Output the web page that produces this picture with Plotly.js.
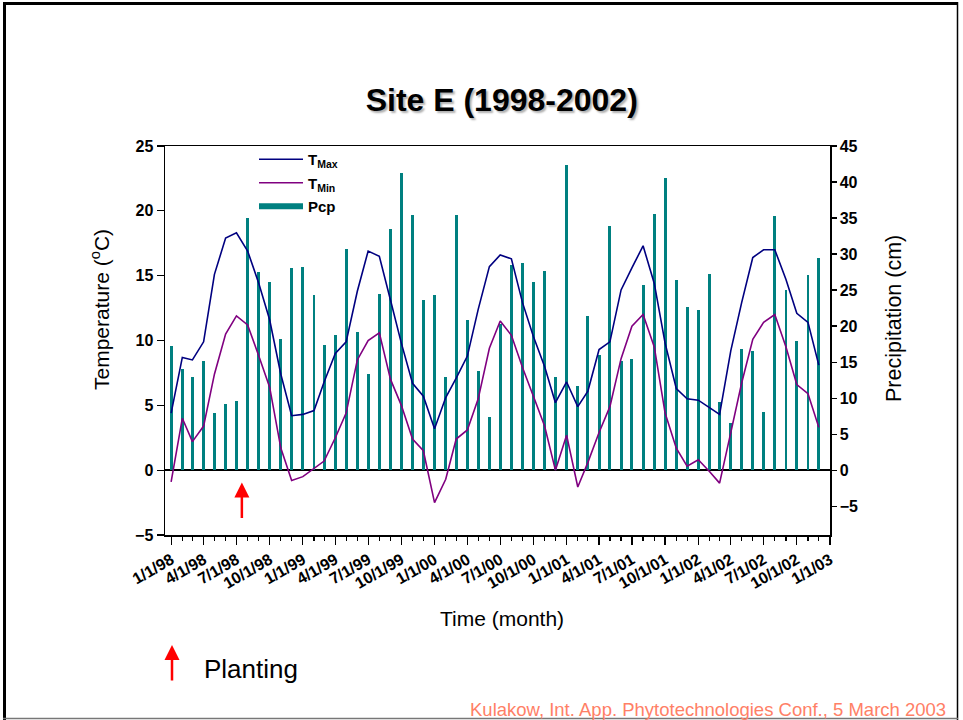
<!DOCTYPE html>
<html>
<head>
<meta charset="utf-8">
<script src="https://cdn.plot.ly/plotly-3.0.1.min.js"></script>
<style>
  html, body { margin: 0; padding: 0; background: #fff; }
  #chart { width: 963px; height: 720px; }
</style>
</head>
<body>
<div id="chart"></div>
<script>
// monthly values, Jan 1998 .. Dec 2002
var firstMonth = '1998-01';
var tMax = [4.4, 8.7, 8.5, 9.9, 15.1, 17.9, 18.3, 16.9, 14.4, 11.6, 7.4, 4.2,
            4.3, 4.6, 6.8, 9.0, 9.9, 13.8, 16.9, 16.5, 13.1, 9.8, 6.7, 5.7,
            3.2, 5.6, 7.1, 8.8, 12.4, 15.7, 16.6, 16.3, 12.9, 10.3, 8.0, 5.2,
            6.8, 4.9, 6.1, 9.3, 9.9, 13.9, 15.6, 17.3, 14.4, 9.8, 6.3, 5.5,
            5.4, 4.8, 4.3, 9.2, 12.9, 16.4, 17.0, 17.0, 14.7, 12.1, 11.4, 8.1];
var tMin = [-0.9, 4.0, 2.2, 3.4, 7.4, 10.5, 11.9, 11.2, 8.8, 6.4, 1.7, -0.8,
            -0.5, 0.1, 0.7, 2.5, 4.4, 8.5, 10.0, 10.6, 7.0, 5.0, 2.4, 1.5,
            -2.5, -0.7, 2.4, 3.1, 5.5, 9.4, 11.5, 10.4, 7.9, 5.7, 3.4, 0.0,
            2.7, -1.3, 0.6, 2.9, 4.9, 8.6, 11.1, 12.0, 9.5, 4.4, 1.7, 0.3,
            0.8, -0.1, -1.0, 2.9, 6.7, 10.1, 11.4, 12.0, 9.5, 6.6, 5.9, 3.3];
var pcp = [17.2, 14.1, 12.9, 15.2, 7.9, 9.2, 9.6, 35.0, 27.5, 26.1, 18.2, 28.1,
           28.2, 24.3, 17.4, 18.7, 30.7, 19.2, 13.3, 24.4, 33.5, 41.3, 35.4, 23.6,
           24.3, 12.9, 35.4, 20.9, 13.7, 7.4, 20.3, 28.5, 28.8, 26.1, 27.6, 13.0,
           42.4, 11.7, 21.4, 16.0, 33.9, 15.2, 15.4, 25.7, 35.6, 40.5, 26.4, 22.6,
           22.2, 27.3, 9.5, 6.6, 16.8, 16.6, 8.1, 35.3, 25.0, 17.9, 27.1, 29.4];
var plantingDate = '1998-07-16';

var months = [];
var y0 = parseInt(firstMonth.slice(0, 4)), m0 = parseInt(firstMonth.slice(5)) - 1;
for (var i = 0; i < pcp.length; i++) {
    var yy = y0 + Math.floor((m0 + i) / 12);
    var mm = (m0 + i) % 12 + 1;
    months.push(yy + '-' + (mm < 10 ? '0' + mm : mm) + '-01');
}

var FONT = "'Liberation Sans', Arial, Helvetica, sans-serif";
var tickFont = { family: FONT, size: 16, color: '#000', weight: 'bold' };

var data = [
    { x: months, y: pcp, type: 'bar', yaxis: 'y', name: 'Pcp', showlegend: false,
      width: 8 * 86400000, marker: { color: '#008080', line: { width: 0 } } },
    { x: months, y: tMax, type: 'scatter', mode: 'lines', yaxis: 'y2', legendgroup: 'a',
      name: '<b>T<sub>Max</sub></b>', line: { color: '#000080', width: 1.6 } },
    { x: months, y: tMin, type: 'scatter', mode: 'lines', yaxis: 'y2', legendgroup: 'b',
      name: '<b>T<sub>Min</sub></b>', line: { color: '#800080', width: 1.6 } },
    // legend swatch for the precipitation bars
    { x: [null], y: [null], type: 'scatter', mode: 'lines', yaxis: 'y2', legendgroup: 'c',
      name: '<b>Pcp</b>', line: { color: '#008080', width: 6 } }
];

function px(x) { return (x - 165) / 665; }
function py(y) { return (535 - y) / 389; }

var layout = {
    width: 963, height: 720,
    margin: { l: 165, r: 133, t: 146, b: 185 },
    paper_bgcolor: '#fff', plot_bgcolor: '#fff',
    font: { family: FONT, color: '#000' },
    showlegend: true,
    title: { text: '<b>Site E (1998-2002)</b>', x: 0.521, xanchor: 'center',
             y: 1 - 100 / 720, yanchor: 'middle',
             font: { family: FONT, size: 32, color: '#000', shadow: '2px 2px 2px #b0b0b0' } },
    legend: { x: px(254), y: py(143), xanchor: 'left', yanchor: 'top',
              bgcolor: 'rgba(0,0,0,0)', font: { family: FONT, size: 15 },
              traceorder: 'grouped', tracegroupgap: 1, itemwidth: 44 },
    bargap: 0,
    xaxis: {
        type: 'date', range: ['1997-12-15', '2003-01-01'],
        dtick: 'M3', tick0: '1998-01-01', tickformat: '%-m/%-d/%y',
        tickangle: -30, tickfont: tickFont,
        ticks: 'outside', ticklen: 8, tickwidth: 1.2, tickcolor: '#000',
        minor: { dtick: 'M1', ticks: 'outside', ticklen: 4, tickwidth: 1.2, tickcolor: '#000' },
        showline: true, linecolor: '#000', linewidth: 1.5, mirror: true,
        showgrid: false, zeroline: false
    },
    yaxis: {
        side: 'right', range: [-9, 45], dtick: 5, tick0: 0,
        tickfont: tickFont, ticks: 'outside', ticklen: 5, tickwidth: 1.2, tickcolor: '#000',
        showline: true, linecolor: '#000', linewidth: 1.5,
        showgrid: false, zeroline: true, zerolinecolor: '#000', zerolinewidth: 1.5
    },
    yaxis2: {
        overlaying: 'y', side: 'left', range: [-5, 25], dtick: 5, tick0: 0,
        tickfont: tickFont, ticks: 'outside', ticklen: 7, tickwidth: 1.2, tickcolor: '#000',
        showline: true, linecolor: '#000', linewidth: 1.5,
        showgrid: false, zeroline: false
    },
    annotations: [
        // axis titles
        { x: px(100), y: py(310), xref: 'paper', yref: 'paper', text: 'Temperature (<sup>o</sup>C)',
          textangle: -90, showarrow: false, xanchor: 'center', yanchor: 'middle',
          font: { family: FONT, size: 21 } },
        { x: px(894), y: py(319), xref: 'paper', yref: 'paper', text: 'Precipitation (cm)',
          textangle: -90, showarrow: false, xanchor: 'center', yanchor: 'middle',
          font: { family: FONT, size: 21.5 } },
        { x: px(502), y: py(618), xref: 'paper', yref: 'paper', text: 'Time (month)',
          showarrow: false, xanchor: 'center', yanchor: 'middle',
          font: { family: FONT, size: 21 } },
        // planting markers
        { x: plantingDate, y: -0.95, xref: 'x', yref: 'y2', text: '', showarrow: true,
          ax: 0, ay: 37, arrowhead: 2, arrowsize: 1.2, arrowwidth: 2.5, arrowcolor: '#ff0000' },
        { x: px(172), y: py(645), xref: 'paper', yref: 'paper', text: '', showarrow: true,
          ax: 0, ay: 37, arrowhead: 2, arrowsize: 1.2, arrowwidth: 2.5, arrowcolor: '#ff0000' },
        { x: px(202), y: py(669), xref: 'paper', yref: 'paper', text: 'Planting',
          showarrow: false, xanchor: 'left', yanchor: 'middle',
          font: { family: FONT, size: 26, color: '#000' } },
        { x: px(948), y: py(709), xref: 'paper', yref: 'paper',
          text: 'Kulakow, Int. App. Phytotechnologies Conf., 5 March 2003',
          showarrow: false, xanchor: 'right', yanchor: 'middle',
          font: { family: FONT, size: 18.5, color: '#ff8066' } }
    ],
    shapes: [
        { type: 'line', xref: 'paper', yref: 'paper', x0: px(4.5), x1: px(4.5), y0: py(2), y1: py(720), line: { color: '#000', width: 3 } },
        { type: 'line', xref: 'paper', yref: 'paper', x0: px(3), x1: px(958), y0: py(3.5), y1: py(3.5), line: { color: '#000', width: 3 } },
        { type: 'line', xref: 'paper', yref: 'paper', x0: px(957.5), x1: px(957.5), y0: py(2), y1: py(720), line: { color: '#000', width: 1.5 } },
        { type: 'line', xref: 'paper', yref: 'paper', x0: px(3), x1: px(958), y0: py(718.5), y1: py(718.5), line: { color: '#777', width: 1.5 } }
    ]
};

Plotly.newPlot('chart', data, layout, { displayModeBar: false, staticPlot: true });
</script>
</body>
</html>
